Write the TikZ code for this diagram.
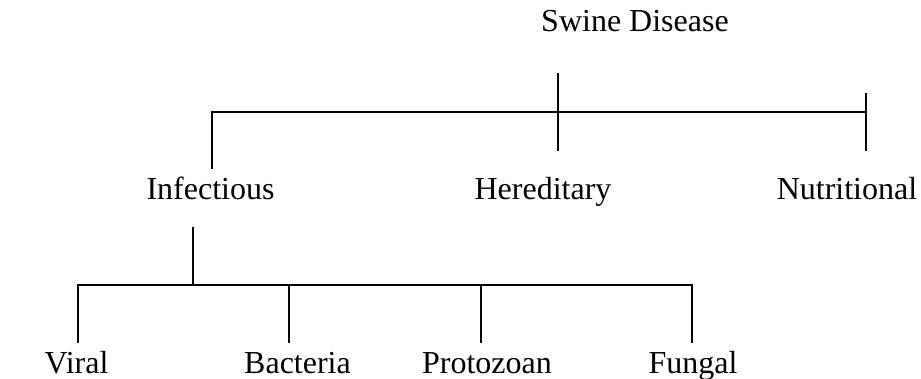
\documentclass[tikz,border=0pt]{standalone}
\usepackage{fontspec}
\setmainfont{Liberation Serif}

\begin{document}
\begin{tikzpicture}[x=0.5pt,y=-0.5pt,
  disease/.style={anchor=base,inner sep=0pt,font=\fontsize{16}{19}\selectfont},
  branch/.style={line width=1pt}]
  \useasboundingbox (0,0) rectangle (921,379);
  % level 0
  \node[disease] (swine) at (635,32) {Swine Disease};
  % level 1
  \node[disease] (infect) at (210.5,200) {Infectious};
  \node[disease] (hered) at (543,200) {Hereditary};
  \node[disease] (nutri) at (847,200) {Nutritional};
  % level 2
  \node[disease] (viral) at (76.5,373) {Viral};
  \node[disease] (bact) at (297.5,373) {Bacteria};
  \node[disease] (proto) at (487,373) {Protozoan};
  \node[disease] (fungal) at (693,373) {Fungal};
  % joints of the first bracket
  \coordinate (swine-stem) at (558,73);
  \coordinate (hered-top) at (558,151);
  \coordinate (infect-top) at (212,169);
  \coordinate (nutri-bar) at (866,112);
  \coordinate (nutri-tick) at (866,93);
  \coordinate (nutri-top) at (866,151);
  \draw[branch] (swine-stem) -- (hered-top);
  \draw[branch] (infect-top) |- (nutri-bar);
  \draw[branch] (nutri-tick) -- (nutri-top);
  % joints of the second bracket
  \coordinate (infect-stem) at (193,227);
  \coordinate (infect-bar) at (193,285);
  \coordinate (viral-top) at (78,343);
  \coordinate (bact-top) at (289,343);
  \coordinate (proto-top) at (481,343);
  \coordinate (fungal-top) at (692,343);
  \draw[branch] (infect-stem) -- (infect-bar);
  \draw[branch] (viral-top) |- (fungal-top |- infect-bar) -- (fungal-top);
  \draw[branch] (bact-top) -- (bact-top |- infect-bar);
  \draw[branch] (proto-top) -- (proto-top |- infect-bar);
\end{tikzpicture}
\end{document}
